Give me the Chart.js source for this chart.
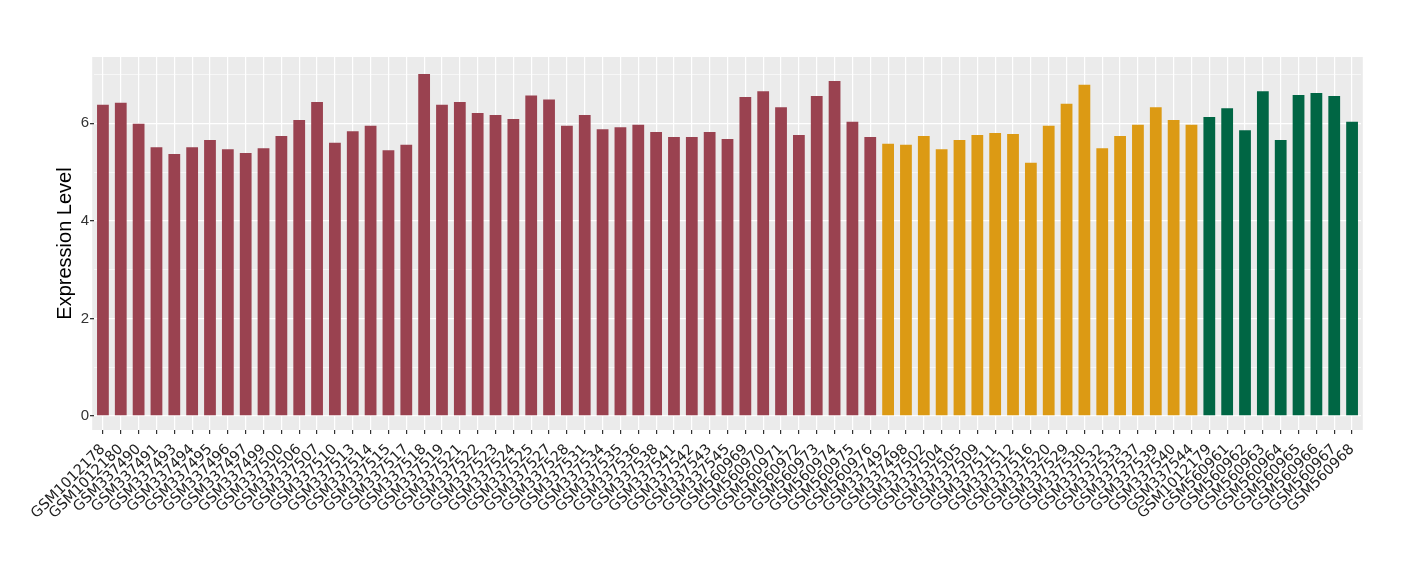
<!DOCTYPE html>
<html>
<head>
<meta charset="utf-8">
<script src="https://cdn.jsdelivr.net/npm/chart.js@4/dist/chart.umd.min.js"></script>
<style>
  html, body { margin: 0; padding: 0; background: #fff; }
  #wrap { width: 1420px; height: 580px; }
</style>
</head>
<body>
<div id="wrap"><canvas id="exprChart" width="1420" height="580"></canvas></div>
<script>
const samples = [
  'GSM1012178', 'GSM1012180', 'GSM337490', 'GSM337491', 'GSM337493', 'GSM337494', 'GSM337495', 'GSM337496',
  'GSM337497', 'GSM337499', 'GSM337500', 'GSM337506', 'GSM337507', 'GSM337510', 'GSM337513', 'GSM337514',
  'GSM337515', 'GSM337517', 'GSM337518', 'GSM337519', 'GSM337521', 'GSM337522', 'GSM337523', 'GSM337524',
  'GSM337525', 'GSM337527', 'GSM337528', 'GSM337531', 'GSM337534', 'GSM337535', 'GSM337536', 'GSM337538',
  'GSM337541', 'GSM337542', 'GSM337543', 'GSM337545', 'GSM560969', 'GSM560970', 'GSM560971', 'GSM560972',
  'GSM560973', 'GSM560974', 'GSM560975', 'GSM560976',
  'GSM337492', 'GSM337498', 'GSM337502', 'GSM337504', 'GSM337505', 'GSM337509', 'GSM337511', 'GSM337512',
  'GSM337516', 'GSM337520', 'GSM337529', 'GSM337530', 'GSM337532', 'GSM337533', 'GSM337537', 'GSM337539',
  'GSM337540', 'GSM337544',
  'GSM1012179', 'GSM560961', 'GSM560962', 'GSM560963', 'GSM560964', 'GSM560965', 'GSM560966', 'GSM560967',
  'GSM560968'
];

const expression = [
  6.38, 6.42, 5.99, 5.51, 5.37, 5.51, 5.66, 5.47, 5.39, 5.49, 5.74, 6.07, 6.44, 5.60, 5.84, 5.95,
  5.45, 5.56, 7.01, 6.38, 6.44, 6.21, 6.17, 6.09, 6.57, 6.49, 5.95, 6.17, 5.88, 5.92, 5.97, 5.82,
  5.72, 5.72, 5.82, 5.68, 6.54, 6.66, 6.33, 5.76, 6.56, 6.87, 6.03, 5.72,
  5.58, 5.56, 5.74, 5.47, 5.66, 5.76, 5.80, 5.78, 5.19, 5.95, 6.40, 6.79, 5.49, 5.74, 5.97, 6.33,
  6.07, 5.97,
  6.13, 6.31, 5.86, 6.66, 5.66, 6.58, 6.62, 6.56, 6.03
];

// how many samples in each group, in the order of samples
const groupSizes = [44, 18, 9];
const groupColors = ['#9A4250', '#DC9A14', '#006644'];

const yTicks = [0, 1, 2, 3, 4, 5, 6, 7];

const barColors = [];
groupSizes.forEach((n, g) => { for (let i = 0; i < n; i++) barColors.push(groupColors[g]); });

// grey panel, a bit wider than the chart area like ggplot's discrete expansion
const panelBg = {
  id: 'panelBg',
  beforeDraw(chart) {
    const { ctx, chartArea } = chart;
    const ext = (chartArea.right - chartArea.left) / samples.length * 0.1;
    ctx.save();
    ctx.fillStyle = '#EBEBEB';
    ctx.fillRect(chartArea.left - ext, chartArea.top, chartArea.right - chartArea.left + 2 * ext, chartArea.bottom - chartArea.top);
    ctx.restore();
  }
};

const ctx = document.getElementById('exprChart').getContext('2d');
new Chart(ctx, {
  type: 'bar',
  data: {
    labels: samples,
    datasets: [{
      data: expression,
      backgroundColor: barColors,
      borderWidth: 0,
      barPercentage: 0.66,
      categoryPercentage: 1.0,
    }]
  },
  options: {
    responsive: false,
    animation: false,
    layout: { padding: { left: 53, right: 59, top: 57, bottom: 0 } },
    plugins: {
      legend: { display: false },
      tooltip: { enabled: false }
    },
    scales: {
      x: {
        offset: true,
        afterFit: (scale) => { scale.height = 150; },
        grid: {
          offset: false,
          color: '#FFFFFF',
          lineWidth: 1.2,
          tickColor: '#333333',
          tickLength: 4,
        },
        border: { display: false },
        ticks: {
          autoSkip: false,
          maxRotation: 45,
          minRotation: 45,
          padding: 7,
          color: '#222222',
          font: { family: 'DejaVu Sans', size: 14.5 }
        }
      },
      y: {
        min: -0.287,
        max: 7.36,
        afterFit: (scale) => { scale.width = 41; },
        afterBuildTicks: (scale) => { scale.ticks = yTicks.map(v => ({ value: v })); },
        grid: {
          color: '#FFFFFF',
          lineWidth: (c) => (c.tick && c.tick.value % 2 === 0 ? 1.3 : 0.6),
          tickColor: (c) => (c.tick && c.tick.value % 2 === 0 ? '#333333' : 'rgba(0,0,0,0)'),
          tickLength: 4,
        },
        border: { display: false },
        ticks: {
          padding: 1,
          color: '#333333',
          font: { family: 'Liberation Sans', size: 15 },
          callback: (v) => (v % 2 === 0 ? String(v) : '')
        },
        title: {
          display: true,
          text: 'Expression Level',
          color: '#000000',
          padding: 0,
          font: { family: 'Liberation Sans', size: 20 }
        }
      }
    }
  },
  plugins: [panelBg]
});
</script>
</body>
</html>
